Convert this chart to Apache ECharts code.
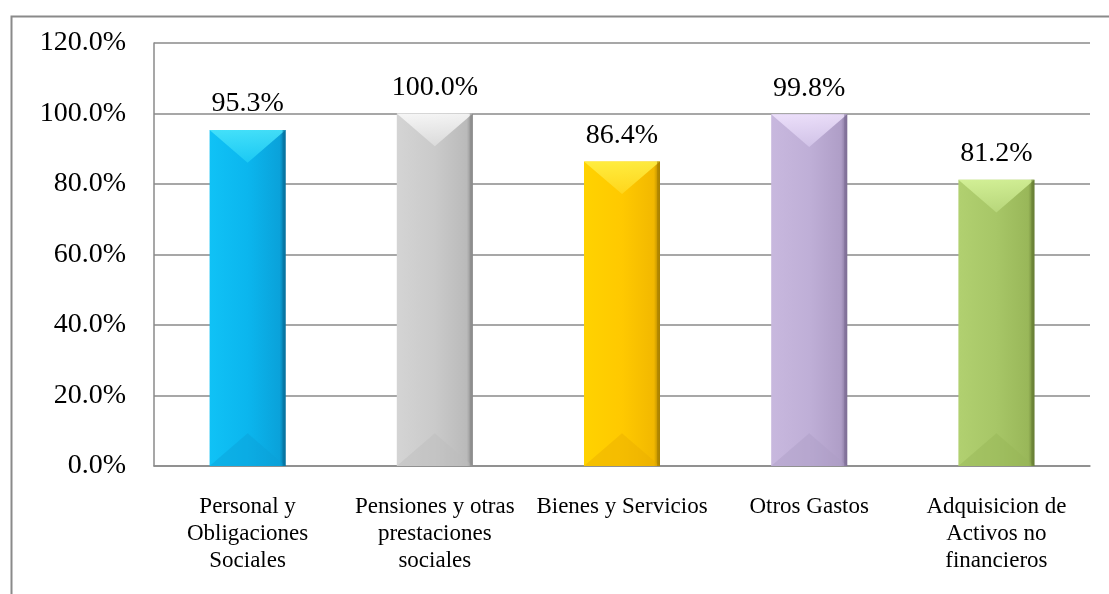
<!DOCTYPE html>
<html>
<head>
<meta charset="utf-8">
<script src="https://cdn.jsdelivr.net/npm/echarts@6/dist/echarts.min.js"></script>
<style>
  html, body { margin: 0; padding: 0; background: #fff; }
  #chart { width: 1109px; height: 594px; }
</style>
</head>
<body>
<div id="chart"></div>
<script>
// Budget execution by expense group (percent)
const categories = [
  'Personal y\nObligaciones\nSociales',
  'Pensiones y otras\nprestaciones\nsociales',
  'Bienes y Servicios',
  'Otros Gastos',
  'Adquisicion de\nActivos no\nfinancieros'
];
const execution = [95.3, 100.0, 86.4, 99.8, 81.2];
const yTicks = [0, 20, 40, 60, 80, 100, 120];

// Per-bar shading: body gradient (left, mid, right, edge), top facet (hi, lo), bottom facet
const shades = [
  { l: '#10C2F6', m: '#0BB6EE', r: '#0AA2DA', e: '#06729E', th: '#4CE6FB', tl: '#1ECCF5', b: '#0AA0D8' },
  { l: '#D4D4D4', m: '#CACACA', r: '#BABABA', e: '#8A8A8A', th: '#FCFCFC', tl: '#DDDDDD', b: '#BCBCBC' },
  { l: '#FFD200', m: '#FFC900', r: '#F2B800', e: '#A88000', th: '#FFF24A', tl: '#FFD820', b: '#E8AE00' },
  { l: '#C8B8DE', m: '#BFAFD7', r: '#AF9EC7', e: '#7E6E96', th: '#F2E6FF', tl: '#D4C6EA', b: '#AE9EC6' },
  { l: '#B1D070', m: '#A7C667', r: '#99B759', e: '#687E34', th: '#D8F59C', tl: '#BAD97E', b: '#96B656' }
];

const BAR_FRAC = 0.406;
const FONT = "'Liberation Serif', 'Times New Roman', serif";

const chart = echarts.init(document.getElementById('chart'), null, { renderer: 'canvas' });

const barData = execution.map((v, i) => ({
  value: v,
  itemStyle: {
    color: new echarts.graphic.LinearGradient(0, 0, 1, 0, [
      { offset: 0, color: shades[i].l },
      { offset: 0.5, color: shades[i].m },
      { offset: 0.92, color: shades[i].r },
      { offset: 1, color: shades[i].e }
    ])
  }
}));

function bevel(params, api) {
  const idx = api.value(0);
  const v = api.value(1);
  const top = api.coord([idx, v]);
  const base = api.coord([idx, 0]);
  const w = api.size([1, 0])[0] * BAR_FRAC;
  const cx = top[0];
  const x0 = cx - w / 2, x1 = cx + w / 2;
  const y0 = top[1], y1 = base[1];
  const d = Math.min(w * 0.43, (y1 - y0) / 2);
  const s = shades[idx];
  return {
    type: 'group',
    children: [
      {
        type: 'polygon',
        shape: { points: [[x0, y0], [x1, y0], [cx, y0 + d]] },
        style: {
          fill: new echarts.graphic.LinearGradient(0, 0, 0, 1, [
            { offset: 0, color: s.th },
            { offset: 1, color: s.tl }
          ]),
          opacity: 0.85
        }
      },
      {
        type: 'polygon',
        shape: { points: [[x0, y1], [x1, y1], [cx, y1 - d]] },
        style: { fill: s.b, opacity: 0.45 }
      },
      {
        type: 'rect',
        shape: { x: x1 - 3, y: y0, width: 3, height: y1 - y0 },
        style: { fill: s.e, opacity: 0.6 }
      }
    ]
  };
}

chart.setOption({
  animation: false,
  backgroundColor: '#ffffff',
  graphic: [{
    type: 'rect',
    left: 9, top: 14,
    shape: { width: 1200, height: 700 },
    style: { fill: 'none', stroke: '#8a8a8a', lineWidth: 2 },
    silent: true
  }],
  grid: { left: 154, right: 19, top: 43, bottom: 128 },
  xAxis: {
    type: 'category',
    data: categories,
    axisLine: { show: true, lineStyle: { color: '#8a8a8a', width: 1.5 } },
    axisTick: { show: false },
    axisLabel: {
      interval: 0,
      margin: 27,
      fontFamily: FONT,
      fontSize: 23,
      lineHeight: 27,
      color: '#000'
    }
  },
  yAxis: {
    type: 'value',
    min: yTicks[0],
    max: yTicks[yTicks.length - 1],
    interval: 20,
    axisLine: { show: true, lineStyle: { color: '#8a8a8a', width: 1.5 } },
    axisTick: { show: false },
    splitLine: { show: true, lineStyle: { color: '#8a8a8a', width: 1.5 } },
    axisLabel: {
      margin: 28,
      fontFamily: FONT,
      fontSize: 28,
      color: '#000',
      formatter: v => v.toFixed(1) + '%'
    }
  },
  series: [
    {
      type: 'bar',
      data: barData,
      barWidth: (BAR_FRAC * 100) + '%',
      z: 2,
      label: {
        show: true,
        position: 'top',
        distance: 12,
        fontFamily: FONT,
        fontSize: 28,
        color: '#000',
        formatter: p => p.value.toFixed(1) + '%'
      }
    },
    {
      type: 'custom',
      renderItem: bevel,
      data: execution.map((v, i) => [i, v]),
      encode: { x: 0, y: 1 },
      z: 3,
      silent: true
    }
  ]
});
</script>
</body>
</html>
